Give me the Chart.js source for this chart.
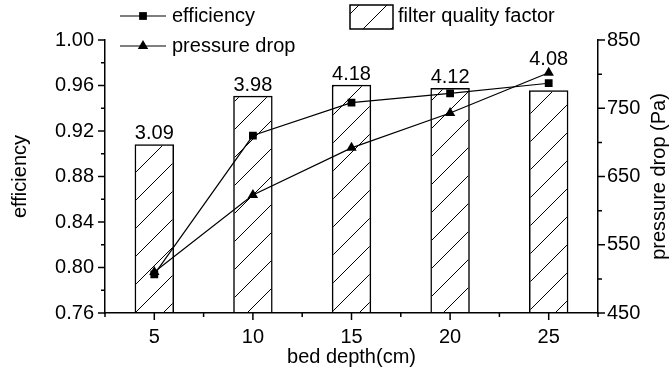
<!DOCTYPE html>
<html>
<head>
<meta charset="utf-8">
<script src="https://cdn.jsdelivr.net/npm/chart.js@4/dist/chart.umd.min.js"></script>
<style>
  body { margin: 0; background: #fff; }
  #wrap { width: 670px; height: 373px; }
</style>
</head>
<body>
<div id="wrap"><canvas id="chart" width="670" height="373"></canvas></div>
<script>
// Chart data
const depths = ['5', '10', '15', '20', '25'];
const efficiency = [0.794, 0.916, 0.945, 0.953, 0.962];
const pressureDrop = [510, 623, 692, 743, 802];
const qualityFactor = [3.09, 3.98, 4.18, 4.12, 4.08];

const FONT = 'Liberation Sans, Arial, sans-serif';
const canvas = document.getElementById('chart');
const ctx = canvas.getContext('2d');

// diagonal hatch used for the bars and the legend box
function makeHatch() {
    const c = document.createElement('canvas');
    c.width = 28;
    c.height = 28;
    const g = c.getContext('2d');
    g.strokeStyle = '#000';
    g.lineWidth = 1;
    g.beginPath();
    g.moveTo(-7, 35); g.lineTo(35, -7);
    g.moveTo(-7, 7); g.lineTo(7, -7);
    g.moveTo(21, 35); g.lineTo(35, 21);
    g.stroke();
    return ctx.createPattern(c, 'repeat');
}
const hatch = makeHatch();

function drawMarker(c, style, x, y, r) {
    c.fillStyle = '#000';
    c.beginPath();
    if (style === 'rect') {
        const s = r * Math.SQRT1_2;
        c.rect(x - s, y - s, 2 * s, 2 * s);
    } else {
        c.moveTo(x, y - r);
        c.lineTo(x + r * 0.866, y + r * 0.5);
        c.lineTo(x - r * 0.866, y + r * 0.5);
        c.closePath();
    }
    c.fill();
}

// tick marks (major + minor), legend, bar labels, right title
const extras = {
    id: 'extras',
    afterDatasetsDraw(chart) {
        const c = chart.ctx;
        const meta = chart.getDatasetMeta(2);
        const lineMetas = [chart.getDatasetMeta(0), chart.getDatasetMeta(1)];
        c.save();
        c.fillStyle = '#000';
        c.font = '20px ' + FONT;
        c.textAlign = 'center';
        c.textBaseline = 'alphabetic';
        meta.data.forEach((bar, i) => {
            // lift the label over any marker that sits above the bar
            let top = bar.y;
            lineMetas.forEach(m => {
                const p = m.data[i];
                const r = m.dataset ? chart.data.datasets[m.index].pointRadius : 5;
                if (p.y - r < bar.y - 3) top = Math.min(top, p.y - r + 3);
            });
            c.fillText(qualityFactor[i].toFixed(2), bar.x, top - 5);
        });
        c.restore();
    },
    afterDraw(chart) {
        const c = chart.ctx;
        const {x, y, y1} = chart.scales;
        c.save();
        c.strokeStyle = '#000';
        c.lineWidth = 1.5;
        c.beginPath();
        // left axis ticks
        for (let i = 0; i <= 12; i++) {
            const py = y.getPixelForValue(0.76 + i * 0.02);
            const len = i % 2 === 0 ? 7 : 4;
            c.moveTo(y.right, py); c.lineTo(y.right - len, py);
        }
        // right axis ticks
        for (let i = 0; i <= 8; i++) {
            const py = y1.getPixelForValue(450 + i * 50);
            const len = i % 2 === 0 ? 7 : 4;
            c.moveTo(y1.left, py); c.lineTo(y1.left + len, py);
        }
        // bottom ticks
        for (let i = 0; i < depths.length; i++) {
            const px = x.getPixelForValue(i);
            c.moveTo(px, x.top); c.lineTo(px, x.top + 7);
        }
        for (let i = 0; i <= depths.length; i++) {
            const px = x.getPixelForValue(i - 0.5);
            c.moveTo(px, x.top); c.lineTo(px, x.top + 4);
        }
        c.stroke();

        // right axis title, reads bottom to top
        c.fillStyle = '#000';
        c.font = '20px ' + FONT;
        c.textAlign = 'center';
        c.textBaseline = 'middle';
        c.save();
        c.translate(659, (y1.top + y1.bottom) / 2);
        c.rotate(-Math.PI / 2);
        c.fillText('pressure drop (Pa)', 0, 0);
        c.restore();

        // legend
        const ds = chart.data.datasets;
        c.textAlign = 'left';
        c.lineWidth = 1.2;
        [[0, 16], [1, 46]].forEach(([idx, ly]) => {
            c.beginPath();
            c.moveTo(120, ly); c.lineTo(166, ly);
            c.stroke();
            drawMarker(c, ds[idx].pointStyle, 143, ly, ds[idx].pointRadius);
            c.fillStyle = '#000';
            c.fillText(ds[idx].label, 172, ly);
        });
        c.fillStyle = hatch;
        c.fillRect(350, 5, 43, 24);
        c.lineWidth = 1.5;
        c.strokeRect(350, 5, 43, 24);
        c.fillStyle = '#000';
        c.fillText(ds[2].label, 398, 16);
        c.restore();
    }
};

new Chart(ctx, {
    type: 'bar',
    data: {
        labels: depths,
        datasets: [
            {
                type: 'line',
                label: 'efficiency',
                data: efficiency,
                yAxisID: 'y',
                borderColor: '#000',
                backgroundColor: '#000',
                borderWidth: 1.2,
                pointStyle: 'rect',
                pointRadius: 5.5,
                pointBorderWidth: 0,
                tension: 0,
                order: 1
            },
            {
                type: 'line',
                label: 'pressure drop',
                data: pressureDrop,
                yAxisID: 'y1',
                borderColor: '#000',
                backgroundColor: '#000',
                borderWidth: 1.2,
                pointStyle: 'triangle',
                pointRadius: 6,
                pointBorderWidth: 0,
                tension: 0,
                order: 2
            },
            {
                label: 'filter quality factor',
                data: qualityFactor,
                yAxisID: 'y2',
                backgroundColor: hatch,
                borderColor: '#000',
                borderWidth: 1.5,
                barPercentage: 0.4,
                categoryPercentage: 1,
                order: 3
            }
        ]
    },
    options: {
        responsive: false,
        animation: false,
        layout: { padding: { top: 40, left: 0, right: 0, bottom: 0 } },
        plugins: {
            legend: { display: false },
            tooltip: { enabled: false }
        },
        scales: {
            x: {
                offset: true,
                grid: { display: false, drawTicks: false },
                border: { display: true, color: '#000', width: 1.5 },
                ticks: { color: '#000', font: { family: FONT, size: 20 }, padding: 12 },
                title: {
                    display: true,
                    text: 'bed depth(cm)',
                    color: '#000',
                    font: { family: FONT, size: 20 },
                    padding: { top: 0, bottom: 4 }
                },
                afterFit(scale) { scale.height = 60; }
            },
            y: {
                position: 'left',
                min: 0.76,
                max: 1.00,
                grid: { display: false, drawTicks: false },
                border: { display: true, color: '#000', width: 1.5 },
                ticks: {
                    stepSize: 0.04,
                    color: '#000',
                    font: { family: FONT, size: 20 },
                    padding: 11,
                    callback: v => v.toFixed(2)
                },
                title: {
                    display: true,
                    text: 'efficiency',
                    color: '#000',
                    font: { family: FONT, size: 20 },
                    padding: { top: 8, bottom: 0 }
                },
                afterFit(scale) { scale.width = 105; }
            },
            y1: {
                position: 'right',
                min: 450,
                max: 850,
                grid: { display: false, drawTicks: false },
                border: { display: true, color: '#000', width: 1.5 },
                ticks: {
                    stepSize: 100,
                    color: '#000',
                    font: { family: FONT, size: 20 },
                    padding: 9
                },
                afterFit(scale) { scale.width = 72; }
            },
            y2: {
                display: false,
                min: 0,
                max: 5
            }
        }
    },
    plugins: [extras]
});
</script>
</body>
</html>
